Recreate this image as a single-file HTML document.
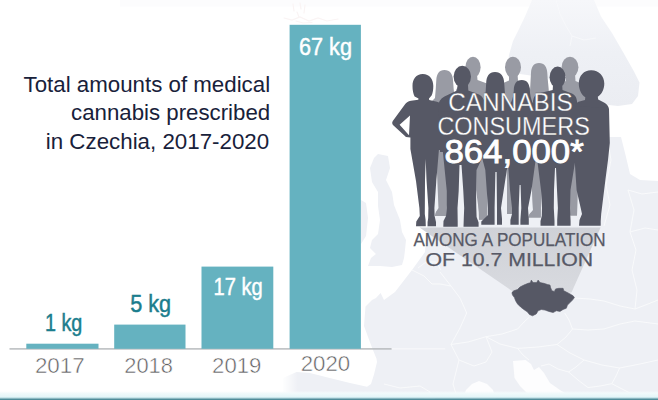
<!DOCTYPE html>
<html>
<head>
<meta charset="utf-8">
<title>Medical cannabis in Czechia</title>
<style>
html,body{margin:0;padding:0;background:#ffffff;}
body{width:658px;height:400px;overflow:hidden;font-family:"Liberation Sans",sans-serif;}
svg{display:block;position:absolute;left:0;top:0;}
text{font-family:"Liberation Sans",sans-serif;}
</style>
</head>
<body>
<svg width="658" height="400" viewBox="0 0 658 400">
  <defs>
    <linearGradient id="strip" x1="0" y1="0" x2="0" y2="1">
      <stop offset="0" stop-color="#f6fbfc" stop-opacity="0"/>
      <stop offset="0.3" stop-color="#f2fafb"/>
      <stop offset="1" stop-color="#e0f4f7"/>
    </linearGradient>
    <linearGradient id="scan" x1="0" y1="0" x2="0" y2="1">
      <stop offset="0" stop-color="#f6f7fa"/>
      <stop offset="0.5" stop-color="#eef0f5"/>
      <stop offset="1" stop-color="#ebedf2"/>
    </linearGradient>
    <linearGradient id="tri" x1="0" y1="0" x2="0" y2="1">
      <stop offset="0" stop-color="#cfd1d7"/>
      <stop offset="1" stop-color="#d9dbe0"/>
    </linearGradient>
    <linearGradient id="fadeL" x1="0" y1="0" x2="1" y2="0">
      <stop offset="0" stop-color="#ffffff" stop-opacity="1"/>
      <stop offset="1" stop-color="#ffffff" stop-opacity="0"/>
    </linearGradient>
  </defs>
  <rect x="0" y="0" width="658" height="400" fill="#ffffff"/>

  <rect x="120" y="0" width="538" height="6.5" fill="#fcfcfd"/>

  <!-- MAP -->
  <g id="map" fill="#eef0f5">
    <!-- Scandinavia -->
    <path d="M532,0 L594,0 L601,16.5 L612,33 L623,52 L634,71.5 L639.5,82.5 L638,96 L632,104 L618,106 L600,104 L572,100 L560,92 L548,78 L520,74 L508,64 L509,55 L513,41 L518.5,30 L525,16.5 Z" fill="url(#scan)"/>
    <!-- Great Britain -->
    <path d="M378,154 L388,156 L390,168 L386,180 L392,192 L394,205 L400,220 L402,232 L406,240 L405,250 L404,258 L402,265 L392,267 L380,266 L368,266 L371,258 L376,254 L370,248 L372,240 L378,234 L380,220 L378,206 L378,192 L372,182 L370,168 L374,158 Z"/>
    <!-- Ireland sliver -->
    <path d="M361,200 L366,203 L368,218 L366,236 L361,244 Z"/>
    <!-- Continent -->
    <path d="M427,226 L434,190 L445,150 L470,132 L607,137 L621,137 L626,157 L630,174 L640,180 L658,181 L658,400 L283,400 L283,378 L296.5,372 L310,373 L325.7,377 L350,383 L367,386.8 L371,384 L374,374.6 L377,362 L376.5,358.7 L371,345 L364,326 L365.5,306.5 L372,300 L376,298 L380.6,293 L384,300 L395,292 L412,270 L425,252 Z"/>
  </g>
  <g fill="#fdfdfe">
    <!-- Adriatic -->
    <path d="M513,361 L525.5,360 L531,364 L534,370 L539,367 L544,373 L550,383 L560,390 L570,396 L572,400 L530,400 L528,394 L520,386 L514.5,378 Z"/>
    <!-- Gulf of Lion -->
    <path d="M462,400 L466,390 L472,384 L479,381 L487,384 L493,390 L496,400 Z"/>
    <path d="M424,400 L426,394 L430,392 L434,395 L435,400 Z"/>
  </g>
  <rect x="282" y="368" width="16" height="32" fill="url(#fadeL)"/>
  <!-- borders -->
  <g fill="none" stroke="#f9fafc" stroke-width="0.9" stroke-linejoin="round">
    <path d="M440,272 L451,286 L460,298 L466.7,313 L460,328 L451,344.5 L459,360 L453,384 L456,394"/>
    <path d="M451,344.5 L468,342 L486,336.7 L502,334 L517.6,329 L524,322 L529.4,317"/>
    <path d="M486,336.7 L500,344 L517.6,348.4 L538,347 L557,344.5 L566,337 L572.5,329 L569,320 L564.7,313"/>
    <path d="M574,298 L590,299 L604,301 L620,306 L635,309 L648,304 L658,300"/>
    <path d="M572.5,329 L588,330 L604,329 L620,324 L635,321 L658,324"/>
    <path d="M557,344.5 L570,353 L584,360 L602,365 L619.6,368 L640,364 L658,360"/>
    <path d="M517.6,348.4 L523,355 L529,360"/>
    <path d="M584,360 L576,367 L568.6,372 L558,369 L549,364 L541,366"/>
    <path d="M568.6,372 L578,380 L588,387.6 L600,386 L611.8,383.7 L624,390 L635,395.5"/>
    <path d="M619.6,368 L616,376 L611.8,383.7"/>
    <path d="M635,309 L637,290 L632,270 L636,250 L630,232 L634,210 L628,190"/>
    <path d="M630,232 L645,228 L658,230"/>
    <path d="M628,190 L642,194 L658,192"/>
    <path d="M607,137 L611,160 L606,185 L610,205 L604,226"/>
    <path d="M412,270 L424,276 L432,284 L440,284 L451,286"/>
    <path d="M418,268 L426,262 L436,262 L441,270"/>
    <path d="M459,360 L474,366 L486,362 L492,352 L486,336.7"/>
    <path d="M384,384 L400,388 L420,386 L430,392"/>
  </g>
  <!-- Scandinavia inner border + lake hint -->
  <g fill="none" stroke="#f7f8fb" stroke-width="0.9">
    <path d="M556,0 L560,14 L566,26 L572,36 L570,46"/>
    <path d="M572,36 L584,40 L596,38"/>
  </g>
  <!-- spotlight triangle -->
  <path d="M419.5,227.4 L600.6,227.4 L571.5,292.5 L520,297 L512,291 Z" fill="url(#tri)"/>

  <!-- faint marks above tallest bar -->
  <g fill="none" stroke="#faf4f4" stroke-width="1.2" stroke-linecap="round">
    <path d="M293,4 L294,11 M300,3 L301,9 M305,5 L304,13 M297,12 L299,17"/>
    <path d="M284,18 L292,20 L300,17 L309,21 L318,18 L327,21 L338,19"/>
    <path d="M296,21 L303,23 L312,22.5"/>
  </g>

  <!-- axis line -->
  <rect x="9.5" y="348.2" width="382.2" height="1.4" fill="#b4b7ba"/>
  <rect x="391.7" y="348.2" width="53.5" height="1.2" fill="#f7f8fa"/>

  <!-- BARS -->
  <g fill="#65b2c0">
    <rect x="26.3" y="343.7" width="72.2" height="5.1"/>
    <rect x="114.2" y="324.6" width="71.3" height="24.2"/>
    <rect x="201.5" y="266.6" width="71.8" height="82.2"/>
    <rect x="289.6" y="24.8" width="71.3" height="324"/>
  </g>

  <!-- bar labels -->
  <g font-size="23" fill="#1b7d8d" stroke="#1b7d8d" stroke-width="0.45">
    <text x="44.9" y="331" textLength="37.4" lengthAdjust="spacingAndGlyphs">1 kg</text>
    <text x="130.2" y="311.7" textLength="41" lengthAdjust="spacingAndGlyphs">5 kg</text>
    <text x="213.6" y="294.8" textLength="49.2" lengthAdjust="spacingAndGlyphs" fill="#ffffff" stroke="#ffffff">17 kg</text>
    <text x="299" y="54.8" textLength="53" lengthAdjust="spacingAndGlyphs" fill="#ffffff" stroke="#ffffff">67 kg</text>
  </g>

  <!-- year labels -->
  <g font-size="21.8" fill="#5f6062" stroke="#ffffff" stroke-width="0.5">
    <text x="34.9" y="373" textLength="49.8" lengthAdjust="spacingAndGlyphs">2017</text>
    <text x="124.3" y="373" textLength="48.6" lengthAdjust="spacingAndGlyphs">2018</text>
    <text x="212.1" y="373" textLength="49.2" lengthAdjust="spacingAndGlyphs">2019</text>
    <text x="300.7" y="371.4" textLength="49.4" lengthAdjust="spacingAndGlyphs">2020</text>
  </g>

  <!-- title -->
  <g font-size="21.5" fill="#18213a">
    <text x="23.5" y="91.6" textLength="246.6" lengthAdjust="spacingAndGlyphs">Total amounts of medical</text>
    <text x="71" y="120.4" textLength="199.2" lengthAdjust="spacingAndGlyphs">cannabis prescribed</text>
    <text x="45.8" y="149" textLength="223.4" lengthAdjust="spacingAndGlyphs">in Czechia, 2017-2020</text>
  </g>

  <!-- PEOPLE (placeholder) -->
  <g id="people-back" fill="#999ba4">
    <path d="M444.4,70 C450,70 452.6,74 453,80 C453.3,86 454,92 454.6,98 L458,101 L458,160 L446.4,170 L446,205 L446.4,216 L435,216 L436,212 L439,209 L438,170 L432,150 L432,101 L435,98 C435.6,92 436,86 436.3,80 C436.7,74 439,70 444.4,70 Z"/>
    <ellipse cx="473" cy="67.3" rx="7.6" ry="10.6"/>
    <path d="M469.5,74 L477,74 L477.5,80 L487,83.5 L490,90 L490,165 L486.5,190 L486,212 L487.4,219.5 L479,219.5 L479,212 L476,190 L462,165 L456,90 L460,83 L469,80 Z"/>
    <ellipse cx="513" cy="67.3" rx="8" ry="10.6"/>
    <path d="M509,74 L517.5,74 L518,80.5 L527,84 L531,90 L531,165 L516,170 L514,200 L513.5,214 L507,214 L507,170 L498,160 L498,90 L501,84 L509,80.5 Z"/>
    <path d="M539,63 C544.5,63 547,67 547.3,73 C547.6,80 548.6,86 549,93 L554,96 L554,165 L540.7,172 L540.7,217.6 L528.4,217.6 L529.5,214 L533,211 L531.5,172 L526,165 L526,96 L530,93 C530.3,86 530.6,80 531,73 C531.3,67 533.5,63 539,63 Z"/>
    <ellipse cx="570" cy="67.3" rx="8.4" ry="10.6"/>
    <path d="M566,74 L575,74 L575.5,81 L585,85 L588,92 L588,160 L577.5,170 L577,215.6 L570,215.6 L570,170 L556,160 L556,92 L558,85 L566,81 Z"/>
    <path d="M436,150 L447,150 L447,205 L446.4,216 L435,216 L436,212 L438.5,208 Z"/>
    <path d="M475.5,150 L488,150 L487.5,200 L487.4,219.7 L479,219.7 L478.5,205 Z"/>
    <path d="M506,160 L515,160 L514.5,200 L514,214 L507.5,214 L508,200 Z"/>
    <path d="M530.5,160 L541.5,160 L541,200 L540.7,217.6 L528.4,217.6 L530,213.5 L533,210 Z"/>
    <path d="M569.5,160 L578,160 L577.5,200 L577,215.6 L570.5,215.6 Z"/>
  </g>
  <g id="people-front" fill="#565865">
    <path d="M422.8,74 C429.5,74 433.3,79 433.3,86 C433.3,90 432.8,93 431.6,95.5 L429,98.5 L429.2,100 L437,101.8 L444,104.5 L446,150 L438.9,150 L436.3,181 L434.4,208 L434.6,216 L436,222 L436,226.3 L427.6,226.3 L427.6,222 L428.2,218 L428.4,208 L426.5,180 L425.7,159 L425,180 L424.8,214 L425.6,220 L425.8,226.3 L416,226.3 L416.3,221.5 L419.8,216 L419.4,208 L416,181 L410.4,149 L410.4,137.6 L406,137 L393.5,125.5 Q391.3,123.3 392.8,121 L404.5,105 Q406.5,101.5 411,100.8 L418.3,99.8 L418.5,98.5 L414.6,96.5 C413.2,93.5 412.5,90 412.5,86 C412.5,79 416,74 422.8,74 Z M410,115.4 L399.6,124.8 L409,135.3 Z" fill-rule="evenodd"/>
    <ellipse cx="462.3" cy="76.6" rx="8.7" ry="10.8"/>
    <path d="M457.6,85 L468,85 L468.3,90.5 L479,94.5 Q484,97 484.5,103 L486,150 L476.5,170 L476,191 L476.3,208 L476.6,217 L478.6,222.5 L478.6,226.8 L463.5,226.8 L463.8,218 L464.2,208 L463.3,191 L461.5,165 L459.5,165 L458.7,191 L457.5,208 L457.7,221 L457.7,226.8 L443.3,226.8 L443.5,221 L446,216 L446.8,208 L446.8,191 L442.7,150 L438,108 Q438.5,99 444.5,96.5 L457,90.5 Z"/>
    <path d="M495,72 C501,72 504,76.5 504.2,83 C504.4,88 505,93 505.5,98 L510.5,103.5 L512,150 L506.8,170 L501,208 L502,219 L502,224.8 L497,224.8 L497,208 L496.6,172 L495.4,172 L494.6,208 L494.6,224.8 L481.3,224.8 L481.3,221.5 L488,215 L488,208 L485.3,170 L480,150 L480.5,103.5 L485,98 C485.5,93 486,88 486.2,83 C486.4,76.5 489,72 495,72 Z"/>
    <path d="M521.8,80 C527.3,80 529.6,84 529.8,90 C530,95 531,99 532.5,102.5 L537,106 L537,150 L531.5,190 L528,208 L528.8,219 L528.8,224.8 L520.4,224.8 L520.4,220 L521.3,208 L520.6,185 L519.6,185 L518.7,208 L518.7,224.8 L510.4,224.8 L510.4,220 L512,214 L512,208 L510,190 L507,150 L507,106 L511,102.5 C512.8,99 513.6,95 513.8,90 C514,84 516.2,80 521.8,80 Z"/>
    <ellipse cx="557.6" cy="77.2" rx="8" ry="10.6"/>
    <path d="M553,85 L562.2,85 L562.5,90 L572,93.5 Q576.5,95.5 577,101 L577,150 L570.5,190 L570,208 L570.6,221 L570.6,225.8 L557.2,225.8 L557.2,220 L557.9,208 L557,190 L556,168 L555,168 L554,190 L553.8,208 L554.5,221 L554.5,225.8 L540.5,225.8 L540.5,221 L541.8,216 L542,208 L541,190 L536,150 L533,101 Q533.5,95.5 538,93.5 L552.7,90 Z"/>
    <path d="M591,70.2 C598.5,70 604.3,75.5 604.3,83.5 C604.3,89.5 601.5,94.5 597.8,96.8 L598.2,99.5 L604,102.5 Q608.3,104.5 609,109 L609.8,143 L608,160 L605.5,179 L601.2,214 L600.7,221 L600.7,225.8 L579,225.8 L579.5,220 L582,214 L580.7,208 L576.6,190 L574,150 L574,106 Q575,103 578.5,101.8 L585,100 L585.3,97.2 C581.5,94.8 578.8,89.5 578.8,83.5 C578.8,75.5 584,70.2 591,70.2 Z"/>
    <path d="M440,112 L485,108 L540,104 L608,108 L608,152 L440,152 Z"/>
  </g>

  <!-- crowd text -->
  <g fill="#ffffff">
    <text x="448.3" y="110.9" font-size="26" textLength="124.4" lengthAdjust="spacingAndGlyphs" stroke="#565865" stroke-width="0.3">CANNABIS</text>
    <text x="437.4" y="134.9" font-size="26" textLength="152.4" lengthAdjust="spacingAndGlyphs" stroke="#565865" stroke-width="0.3">CONSUMERS</text>
    <text x="444.4" y="162.7" font-size="33.5" textLength="139.4" lengthAdjust="spacingAndGlyphs" stroke="#ffffff" stroke-width="0.9">864,000*</text>
  </g>

  <!-- population text -->
  <g fill="#575966" stroke="#575966" stroke-width="0.25">
    <text x="413.4" y="245.6" font-size="18" textLength="192.3" lengthAdjust="spacingAndGlyphs">AMONG A POPULATION</text>
    <text x="425.6" y="266.1" font-size="19" textLength="167.6" lengthAdjust="spacingAndGlyphs">OF 10.7 MILLION</text>
  </g>

  <!-- Czechia -->
  <path id="cz" d="M511.9,292.6 L513.8,290.8 L517.5,289.5 L520,287 L523.8,285.1 L528.1,283.3 L530.4,282.8 L531.3,280.1 L533,282.6 L536.7,282.6 L538.1,280.1 L540,282.6 L543.8,283.3 L547.5,284.5 L550,285.1 L550.6,287.6 L551.9,290.8 L554.4,291.4 L555.6,288.9 L558.8,288.3 L563.1,288.3 L563.8,290.8 L566.3,292 L570,293.9 L573.1,295.8 L574.4,297.6 L572.5,300.1 L570,302.6 L567.5,305.1 L566.3,308.3 L563.1,309.5 L560,311.4 L556.3,310.8 L553.1,312.6 L548.8,311.4 L545,310.1 L541.3,309.5 L538.1,310.8 L536.3,313.9 L532.5,315.8 L529.4,314.5 L527.5,312 L523.8,309.5 L520.6,307 L517.5,303.9 L515.6,300.8 L514.4,297.6 L512.5,295.1 Z" fill="#565865" stroke="#565865" stroke-width="0.6" stroke-linejoin="round"/>

  <!-- bottom strip -->
  <rect x="0" y="391" width="658" height="7" fill="url(#strip)"/>
  <rect x="0" y="397.6" width="658" height="1" fill="#a6d0d8"/>
  <rect x="0" y="398.5" width="658" height="1.5" fill="#4f8c99"/>
</svg>
</body>
</html>
